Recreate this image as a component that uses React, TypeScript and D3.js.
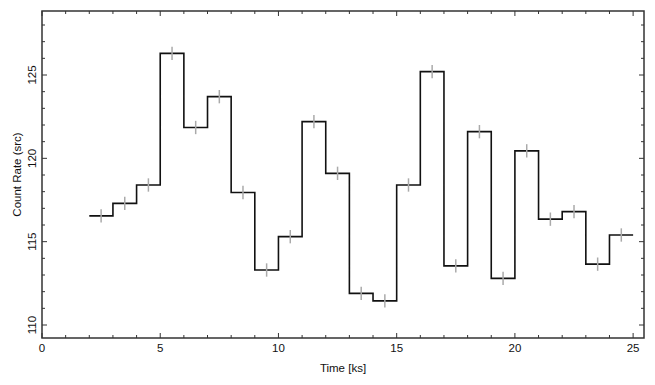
import React, { useEffect, useRef } from "react";
import * as d3 from "d3";

// bin edges of the light curve (ks)
const binStart = [2, 3, 4, 5, 6, 7, 8, 9, 10, 11, 12, 13, 14, 15, 16, 17, 18, 19, 20, 21, 22, 23, 24];
// count rate per bin
const rates = [
  116.55, 117.3, 118.4, 126.3, 121.85, 123.7, 117.95, 113.3, 115.3, 122.2, 119.1, 111.9,
  111.45, 118.4, 125.2, 113.55, 121.6, 112.8, 120.45, 116.35, 116.8, 113.65, 115.4,
];
const rateErr = [
  0.4, 0.4, 0.4, 0.4, 0.4, 0.4, 0.4, 0.4, 0.4, 0.4, 0.4, 0.4,
  0.4, 0.4, 0.4, 0.4, 0.4, 0.4, 0.4, 0.4, 0.4, 0.4, 0.4,
];
const xTicks = [0, 5, 10, 15, 20, 25];
const yTicks = [110, 115, 120, 125];

export default function App() {
  const ref = useRef(null);

  useEffect(() => {
    const width = 655;
    const height = 385;
    const left = 42, right = 644, top = 11, bottom = 338;

    const x = d3.scaleLinear().domain([0, 25.46]).range([left, right]);
    const y = d3.scaleLinear().domain([109.22, 128.84]).range([bottom, top]);

    const svg = d3.select(ref.current);
    svg.selectAll("*").remove();
    svg.attr("width", width).attr("height", height)
      .style("font-family", "'Liberation Sans', Arial, sans-serif");

    // step line
    const pts = [];
    binStart.forEach((b, i) => {
      pts.push([b, rates[i]]);
      pts.push([b + 1, rates[i]]);
    });
    const line = d3.line().x((d) => x(d[0])).y((d) => y(d[1]));
    svg.append("path")
      .attr("d", line(pts))
      .attr("fill", "none")
      .attr("stroke", "#111")
      .attr("stroke-width", 1.6);

    // error bars
    svg.append("g")
      .selectAll("line")
      .data(binStart)
      .join("line")
      .attr("x1", (d) => x(d + 0.5))
      .attr("x2", (d) => x(d + 0.5))
      .attr("y1", (d, i) => y(rates[i] - rateErr[i]))
      .attr("y2", (d, i) => y(rates[i] + rateErr[i]))
      .attr("stroke", "#aaa")
      .attr("stroke-width", 1.5);

    // frame
    const axisColor = "#333";
    svg.append("rect")
      .attr("x", left).attr("y", top)
      .attr("width", right - left).attr("height", bottom - top)
      .attr("fill", "none")
      .attr("stroke", axisColor)
      .attr("stroke-width", 1.5);

    // ticks, all four sides, pointing in
    const g = svg.append("g").attr("stroke", axisColor).attr("stroke-width", 1);
    d3.range(0, 26).forEach((v) => {
      const len = v % 5 === 0 ? 5 : 3;
      g.append("line").attr("x1", x(v)).attr("x2", x(v)).attr("y1", bottom).attr("y2", bottom - len);
      g.append("line").attr("x1", x(v)).attr("x2", x(v)).attr("y1", top).attr("y2", top + len);
    });
    d3.range(110, 129).forEach((v) => {
      const len = v % 5 === 0 ? 5 : 3;
      g.append("line").attr("y1", y(v)).attr("y2", y(v)).attr("x1", left).attr("x2", left + len);
      g.append("line").attr("y1", y(v)).attr("y2", y(v)).attr("x1", right).attr("x2", right - len);
    });

    // tick labels
    svg.append("g")
      .selectAll("text")
      .data(xTicks)
      .join("text")
      .attr("x", (d) => x(d))
      .attr("y", 352)
      .attr("text-anchor", "middle")
      .attr("font-size", 11.5)
      .attr("fill", "#111")
      .text((d) => d);

    svg.append("g")
      .selectAll("text")
      .data(yTicks)
      .join("text")
      .attr("transform", (d) => `translate(36,${y(d)}) rotate(-90)`)
      .attr("text-anchor", "middle")
      .attr("font-size", 11.5)
      .attr("fill", "#111")
      .text((d) => d);

    // axis titles
    svg.append("text")
      .attr("x", (left + right) / 2)
      .attr("y", 372)
      .attr("text-anchor", "middle")
      .attr("font-size", 11.5)
      .attr("fill", "#111")
      .text("Time [ks]");

    svg.append("text")
      .attr("transform", `translate(21,${(top + bottom) / 2}) rotate(-90)`)
      .attr("text-anchor", "middle")
      .attr("font-size", 11.5)
      .attr("fill", "#111")
      .text("Count Rate (src)");
  }, []);

  return (
    <svg
      ref={ref}
      style={{ position: "absolute", left: 0, top: 0, display: "block" }}
    />
  );
}
